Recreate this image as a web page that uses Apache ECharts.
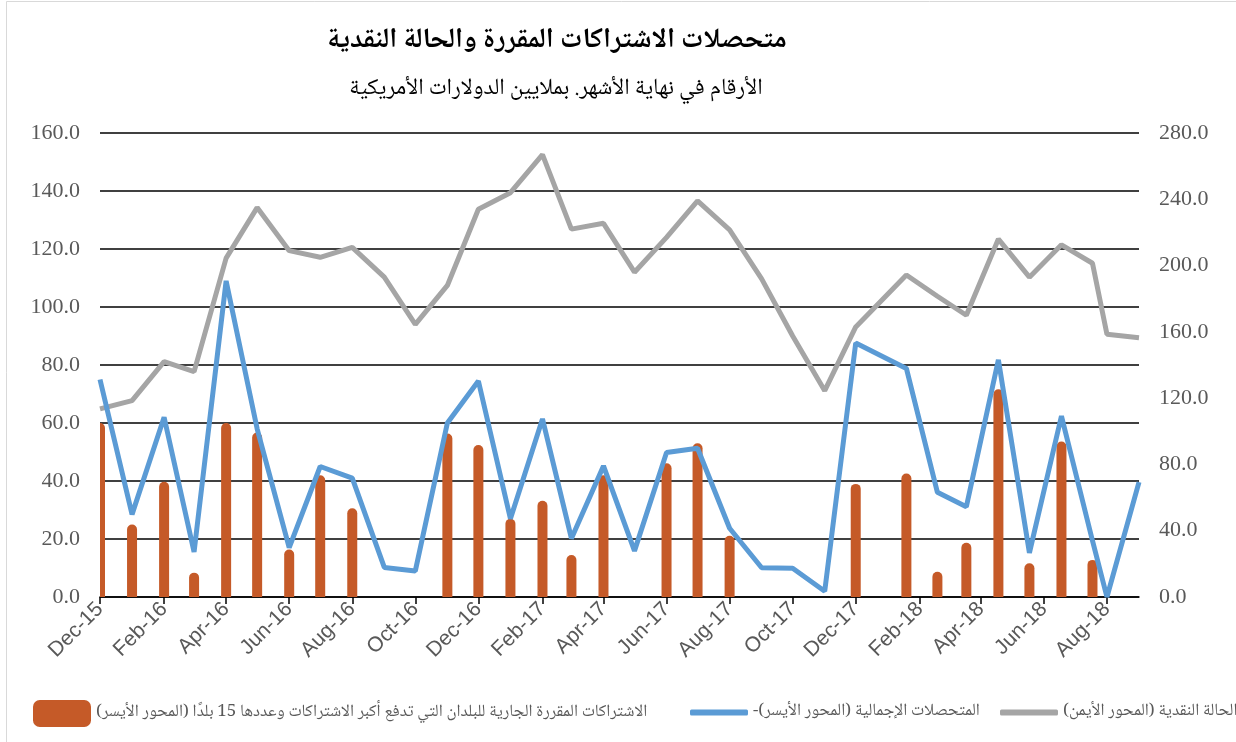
<!DOCTYPE html>
<html><head><meta charset="utf-8">
<script src="https://cdn.jsdelivr.net/npm/echarts@6/dist/echarts.min.js"></script>
<style>html,body{margin:0;padding:0;background:#fff}#c{width:1236px;height:742px}</style>
</head><body><div id="c"></div>
<script>
// Observation dates (x categories)
const dates = ['2015-12-01','2016-01-01','2016-02-01','2016-03-01','2016-04-01','2016-05-01','2016-06-01','2016-07-01','2016-08-01','2016-09-01','2016-10-01','2016-11-01','2016-12-01','2017-01-01','2017-02-01','2017-03-01','2017-04-01','2017-05-01','2017-06-01','2017-07-01','2017-08-01','2017-09-01','2017-10-01','2017-11-01','2017-12-01','2018-01-19','2018-02-18','2018-03-18','2018-04-18','2018-05-18','2018-06-18','2018-07-18','2018-08-01','2018-09-01'];
// Current assessed contributions of the 15 largest contributors (left axis)
const assessed = [60,25,39.7,8.4,60,56.7,16.4,42,30.6,null,null,56.4,52.4,27,33.2,14.5,42,null,46.1,53,21.1,null,null,null,39,42.6,8.7,18.7,71.6,11.6,53.6,12.8,null,null];
// Total receipts (left axis)
const receipts = [75,28.5,62,15.5,109,58,17,45,41,10.2,9,60,74.5,27,61.4,20.2,45.2,15.9,49.8,51.3,23.7,10.1,9.9,2,87.6,78.8,36.1,31.1,81.8,15.2,62.4,19.4,0,39.6];
// Cash position (right axis)
const cash = [113.5,118.5,142,136,204.5,235,209,205,211,193,164.5,188,234,244,267,222,225.5,196,217,239,221.5,192,157.5,124.5,163,194.3,181.5,170,216,193,212.5,201.4,158.5,156.5];
// X tick positions and labels
const tickDates = ['2015-12-01','2016-02-01','2016-04-01','2016-06-01','2016-08-01','2016-10-01','2016-12-01','2017-02-01','2017-04-01','2017-06-01','2017-08-01','2017-10-01','2017-12-01','2018-02-01','2018-04-01','2018-06-01','2018-08-01'];
const tickLabels = ['Dec-15','Feb-16','Apr-16','Jun-16','Aug-16','Oct-16','Dec-16','Feb-17','Apr-17','Jun-17','Aug-17','Oct-17','Dec-17','Feb-18','Apr-18','Jun-18','Aug-18'];
const leftTicks = [0,20,40,60,80,100,120,140,160];
const rightTicks = [0,40,80,120,160,200,240,280];

const titleText = 'متحصلات الاشتراكات المقررة والحالة النقدية';
const subText = 'الأرقام في نهاية الأشهر. بملايين الدولارات الأمريكية';
const barName = 'الاشتراكات المقررة الجارية للبلدان التي تدفع أكبر الاشتراكات وعددها 15 بلدًا (المحور الأيسر)';
const blueName = 'المتحصلات الإجمالية (المحور الأيسر)-';
const grayName = 'الحالة النقدية (المحور الأيمن)';

const RLM = '\u200F';
const rtl = s => RLM + s + RLM;
const dayNum = s => { const p = s.split('-').map(Number); return Math.round((Date.UTC(p[0], p[1]-1, p[2]) - Date.UTC(2015, 11, 1)) / 86400000); };
const tickDays = tickDates.map(dayNum);
const arabicFont = "'Noto Naskh Arabic','Amiri','DejaVu Serif','Times New Roman',serif";
const BAR_COLOR = '#C55A28', BAR_W = 10;

const chart = echarts.init(document.getElementById('c'), null, {renderer:'canvas'});
const legendText = {color:'#595959', fontSize:17, fontFamily: arabicFont};
chart.setOption({
  animation:false,
  backgroundColor:'#fff',
  graphic:[{type:'rect', silent:true, shape:{x:6.5,y:1.5,width:1300,height:800}, style:{fill:null, stroke:'#d9d9d9', lineWidth:1}}],
  title:[
    {text: rtl(titleText), left:557, top:29, textAlign:'center', padding:0, textStyle:{fontSize:28, fontWeight:'bold', color:'#000', fontFamily: arabicFont}},
    {text: rtl(subText), left:556, top:80, textAlign:'center', padding:0, textStyle:{fontSize:23, fontWeight:'normal', color:'#000', fontFamily: arabicFont}}
  ],
  legend:[
    {data:[barName], left:33, top:700, padding:0, itemWidth:58, itemHeight:27, icon:'roundRect', selectedMode:false, textStyle:legendText, formatter:n=>rtl(n)},
    {data:[blueName], left:690, top:704, padding:0, itemWidth:58, itemHeight:6, icon:'roundRect', selectedMode:false, textStyle:legendText, formatter:n=>rtl(n)},
    {data:[grayName], left:1000, top:704, padding:0, itemWidth:58, itemHeight:6, icon:'roundRect', selectedMode:false, textStyle:legendText, formatter:n=>rtl(n)}
  ],
  grid:{left:100, right:97, top:133, bottom:145, containLabel:false},
  xAxis:{
    type:'value', min: dayNum(dates[0]), max: dayNum(dates[dates.length-1]),
    axisLine:{show:true, onZero:false, lineStyle:{color:'#000', width:1.5}},
    axisTick:{show:true, customValues: tickDays, length:7, lineStyle:{color:'#000', width:1.5}},
    axisLabel:{customValues: tickDays, rotate:45, color:'#595959', fontSize:21, fontFamily:"'Liberation Sans',sans-serif", margin:9,
      formatter: v => { const i = tickDays.indexOf(Math.round(v)); return i >= 0 ? tickLabels[i] : ''; }},
    splitLine:{show:false}
  },
  yAxis:[
    {type:'value', min:leftTicks[0], max:leftTicks[leftTicks.length-1], interval:leftTicks[1]-leftTicks[0], position:'left',
     axisLine:{show:false}, axisTick:{show:false},
     axisLabel:{formatter:v=>v.toFixed(1), color:'#595959', fontSize:22, fontFamily:"'Liberation Serif',serif", margin:20},
     splitLine:{show:true, lineStyle:{color:'#000', width:1.5}}},
    {type:'value', min:rightTicks[0], max:rightTicks[rightTicks.length-1], interval:rightTicks[1]-rightTicks[0], position:'right',
     axisLine:{show:false}, axisTick:{show:false},
     axisLabel:{formatter:v=>v.toFixed(1), color:'#595959', fontSize:22, fontFamily:"'Liberation Serif',serif", margin:20},
     splitLine:{show:false}}
  ],
  series:[
    {name:barName, type:'custom', yAxisIndex:0, clip:true, z:1,
     itemStyle:{color:BAR_COLOR},
     encode:{x:0, y:1},
     renderItem:(params, api) => {
       const v = api.value(1);
       if (v == null || isNaN(v)) return null;
       const top = api.coord([api.value(0), v]);
       const base = api.coord([api.value(0), 0]);
       return {type:'rect', shape:{x: top[0]-BAR_W/2, y: top[1], width: BAR_W, height: base[1]-top[1], r:[BAR_W/2, BAR_W/2, 0, 0]},
               style:{fill: BAR_COLOR}};
     },
     data: dates.map((d,i)=>[dayNum(d), assessed[i]])},
    {name:grayName, type:'line', yAxisIndex:1, showSymbol:false, symbol:'none', z:2,
     lineStyle:{color:'#A5A5A5', width:5}, itemStyle:{color:'#A5A5A5'},
     data: dates.map((d,i)=>[dayNum(d), cash[i]])},
    {name:blueName, type:'line', yAxisIndex:0, showSymbol:false, symbol:'none', z:3,
     lineStyle:{color:'#5B9BD5', width:5}, itemStyle:{color:'#5B9BD5'},
     data: dates.map((d,i)=>[dayNum(d), receipts[i]])}
  ]
});
</script></body></html>
